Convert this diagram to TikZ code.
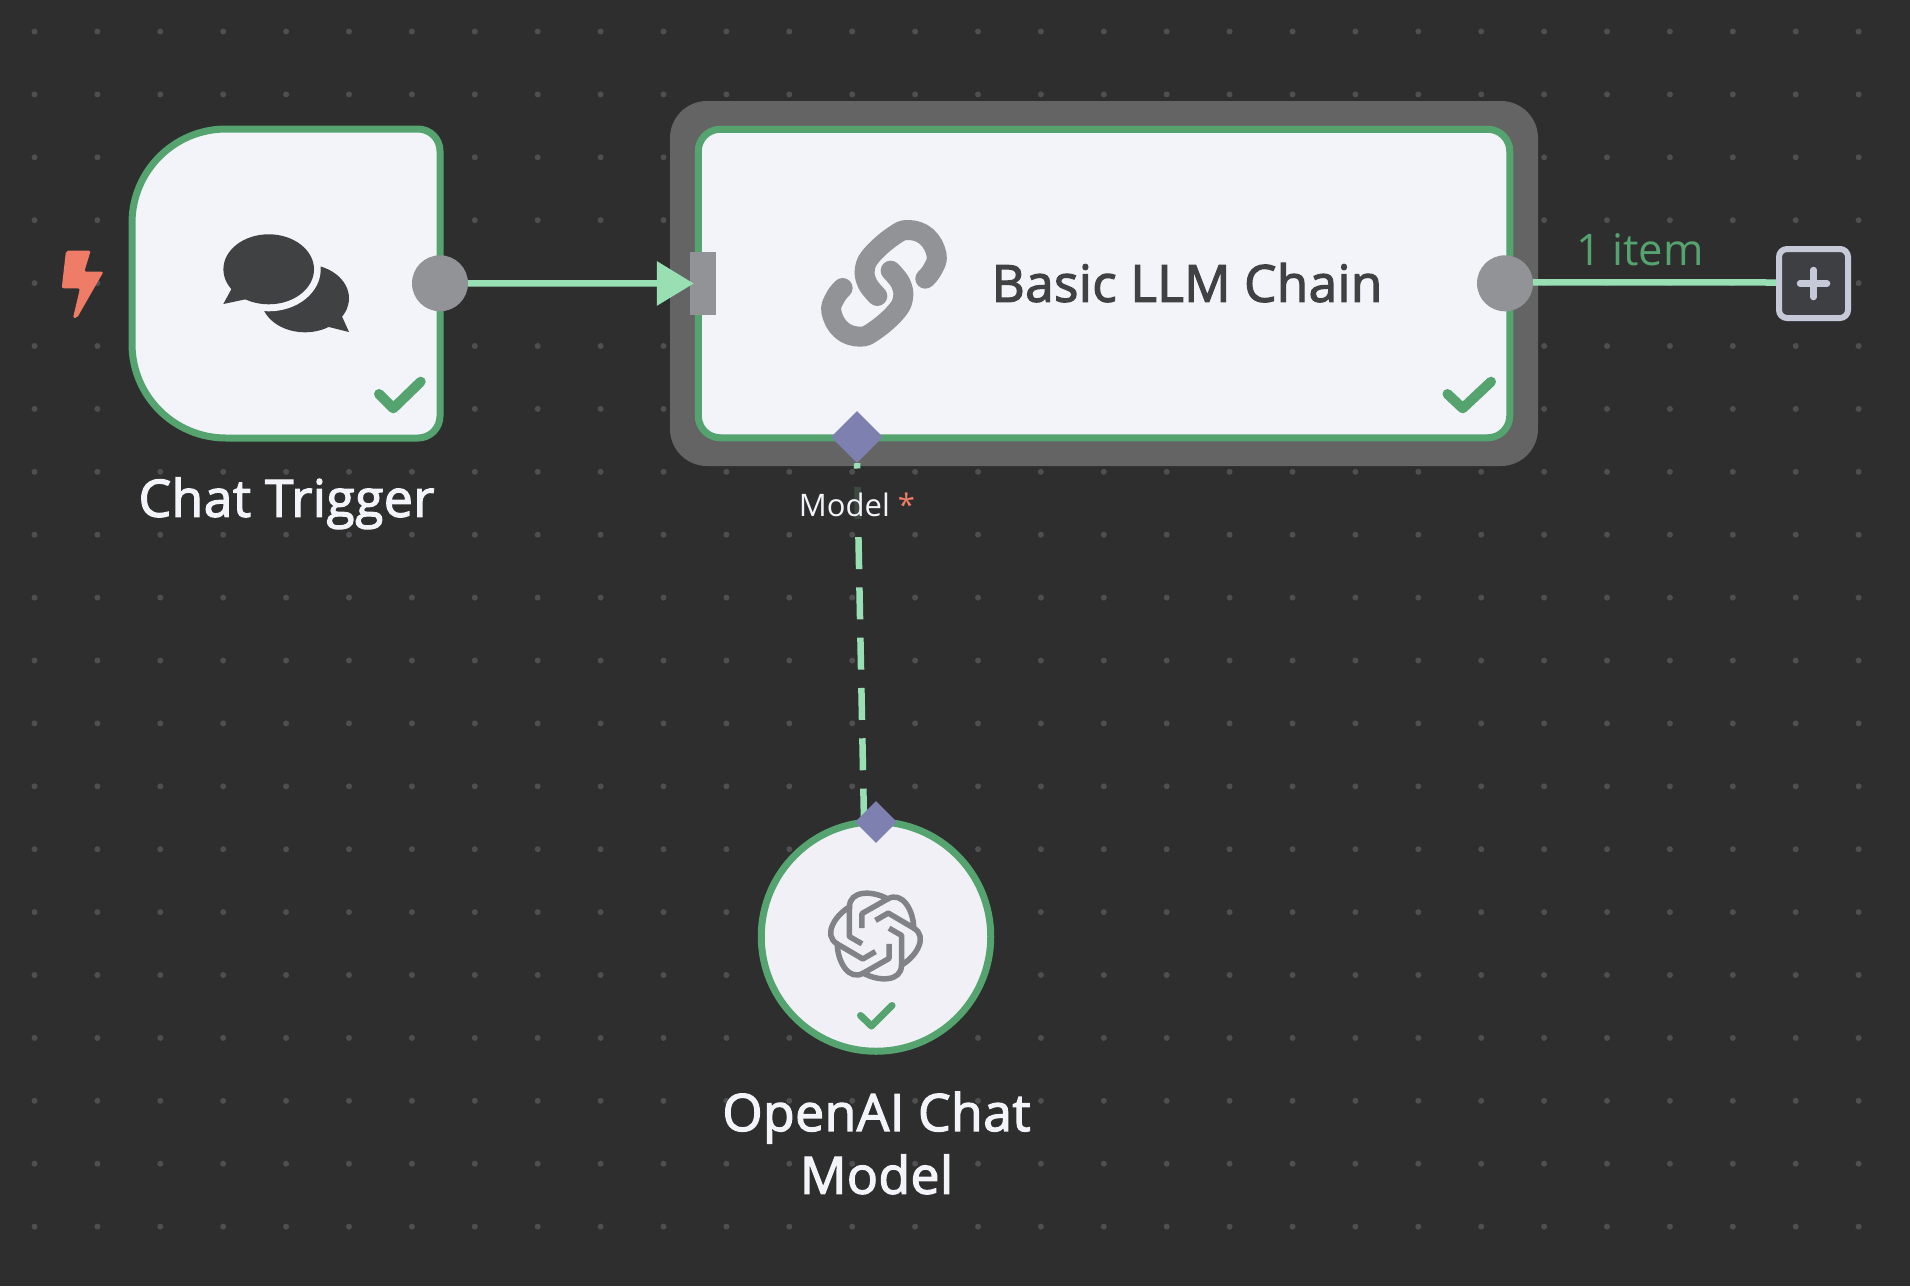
\documentclass[tikz,border=0pt]{standalone}
\usepackage{xcolor}
\usepackage{fontspec}
\usepackage{tikz}
\usetikzlibrary{arrows.meta,shapes.geometric}
\setmainfont{Open Sans}
\newfontfamily\labelfont[FakeBold=2.5,LetterSpace=1.0]{Open Sans}
\definecolor{canvasbg}{HTML}{2E2E2E}
\definecolor{griddot}{HTML}{4F4F51}
\definecolor{haloline}{HTML}{646464}
\definecolor{okgreen}{HTML}{55A36F}
\definecolor{cardbg}{HTML}{F2F4F9}
\definecolor{roundbg}{HTML}{F0F0F6}
\definecolor{portgrey}{HTML}{929397}
\definecolor{subport}{HTML}{7E81B0}
\definecolor{flowgreen}{HTML}{98DFB4}
\definecolor{iconink}{HTML}{404143}
\definecolor{logoink}{HTML}{818287}
\definecolor{boltred}{HTML}{EF7C66}
\definecolor{addline}{HTML}{C5C9D8}
\definecolor{addbg}{HTML}{3E3F43}
\definecolor{labelwhite}{HTML}{F2F4F9}
\tikzset{
  cardline/.style={draw=okgreen, line width=7pt, fill=cardbg},
  tick/.style={draw=okgreen, line join=round, line cap=round},
  mainport/.style={circle, fill=portgrey, inner sep=0pt, minimum size=56pt},
  subdiamond/.style={diamond, aspect=1, fill=subport, inner sep=0pt},
  flowline/.style={draw=flowgreen, line width=6.5pt},
  linkline/.style={draw=portgrey, line width=20pt, line join=round, line cap=round},
  nodelabel/.style={text=labelwhite, align=center, font=\labelfont\fontsize{51.5}{62.7}\selectfont},
}
\begin{document}
\begin{tikzpicture}[x=1pt, y=-1pt]
\useasboundingbox (0,0) rectangle (1910,1286);
\fill[canvasbg] (0,0) rectangle (1910,1286);
\foreach \i in {0,...,29}
  \foreach \j in {0,...,19}
    \fill[griddot] (34.5+62.9*\i,31.5+62.9*\j) circle[radius=3];

\fill[boltred, rounded corners=2pt] (66,250.7) -- (90.7,250.7) -- (84.3,271.7) -- (103.5,271.7) -- (77,318) -- (73,318) -- (80,288.3) -- (61.7,288.3) -- cycle;

\draw[cardline] (226,129) -- (418,129) .. controls (430.15,129) and (440,138.85) .. (440,151) -- (440,416) .. controls (440,428.15) and (430.15,438) .. (418,438) -- (226,438) .. controls (174.1,438) and (132,395.9) .. (132,344) -- (132,223) .. controls (132,171.1) and (174.1,129) .. (226,129) -- cycle;
\fill[iconink] (305,298.3) ellipse[x radius=44, y radius=34];
\fill[iconink] (340,312) -- (349,332) -- (325,326) -- cycle;
\fill[cardbg] (268.7,269.3) ellipse[x radius=52, y radius=42];
\fill[iconink] (268.7,269.3) ellipse[x radius=45.3, y radius=35];
\fill[iconink] (232,288) -- (223.3,304) -- (247,299) -- cycle;
\draw[tick, line width=10pt] (379,394) -- (393.3,408.3) -- (420.7,381.7);
\node[mainport] (triggerout) at (440,283.3) {};
\node[nodelabel, anchor=base] (triggerlabel) at (286.5,516.7) {Chat Trigger};

\node[rectangle, fill=haloline, rounded corners=37pt, minimum width=868pt, minimum height=365pt] (chainhalo) at (1104,283.5) {};
\node[rectangle, cardline, rounded corners=22pt, minimum width=811.5pt, minimum height=308.5pt] (chaincard) at (1104,283.5) {};
\begin{scope}[shift={(650,180)}, x=0.3333pt, y=-0.3333pt]
\draw[linkline] plot[smooth, tension=0.7] coordinates {(682,348) (652,310) (645,265) (668,222) (730,168) (775,150) (830,170) (860,225) (848,268) (826,296)};
\draw[linkline] plot[smooth, tension=0.7] coordinates {(722,272) (752,310) (759,355) (736,398) (674,452) (629,470) (574,450) (544,395) (556,352) (578,324)};
\end{scope}
\node[text=iconink, anchor=base, font=\labelfont\fontsize{51}{60}\selectfont] (chainlabel) at (1187,301.7) {Basic LLM Chain};
\draw[tick, line width=10pt] (1447.5,394) -- (1462.7,408.3) -- (1491,381.7);
\node[rectangle, fill=portgrey, minimum width=26pt, minimum height=63pt, inner sep=0pt] (chainin) at (703,283.5) {};
\node[mainport] (chainout) at (1505,283.3) {};
\node[subdiamond, minimum width=52pt, minimum height=52pt] (modelport) at (857,437) {};

\node[rectangle, rounded corners=8pt, draw=addline, fill=addbg, line width=6pt, minimum size=69pt] (addbtn) at (1813.5,283.5) {};
\draw[addline, line width=6.5pt, line cap=round] (1800,283.5) -- (1827,283.5);
\draw[addline, line width=6.5pt, line cap=round] (1813.5,270) -- (1813.5,297);
\node[text=okgreen, anchor=base, font=\fontsize{43.5}{50}\selectfont] (itemlabel) at (1640,265) {1 item};

\draw[flowline, -{Triangle[length=37pt,width=43pt]}, shorten >=-4pt] (triggerout) -- (chainin);
\draw[flowline] ([yshift=1pt]chainout.east) -- ([yshift=1pt]addbtn.west);

\coordinate (modelend) at (864,822);
\draw[flowline, dash pattern=on 32pt off 18.3pt, dash phase=26.7pt] (modelport.south) -- (modelend);
\node[fill=canvasbg, fill opacity=0.85, text opacity=1, text=labelwhite, anchor=base, inner ysep=0pt, text depth=7pt, text height=31pt, font=\fontsize{31}{36}\selectfont] (modellabel) at (857,516) {Model \textcolor{boltred}{*}};

\node[circle, draw=okgreen, fill=roundbg, line width=7pt, inner sep=0pt, minimum size=229.5pt] (openaicard) at (876,936.5) {};
\foreach \a in {0,60,...,300}
  \draw[logoink, line width=5.5pt, line join=round, shift={(875.5,936)}, rotate=\a, scale=1.04] (-25,-28) .. controls (-25,-44) and (-3,-44) .. (11.75,-35.65) -- (-13,-21.6) -- (-13,-7.5);
\draw[tick, line width=7pt] (860.5,1015.5) -- (871.5,1026) -- (892,1005.5);
\node[subdiamond, minimum width=42pt, minimum height=42pt] (openaiport) at (876,822) {};
\node[nodelabel] (openailabel) at (876.5,1143) {OpenAI Chat\\Model};
\end{tikzpicture}
\end{document}
